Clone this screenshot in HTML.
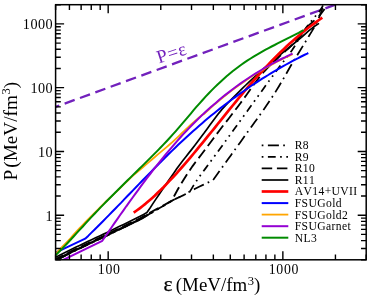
<!DOCTYPE html>
<html><head><meta charset="utf-8"><title>EOS</title>
<style>html,body{margin:0;padding:0;background:#fff}body{width:374px;height:297px;overflow:hidden;font-family:"Liberation Serif",serif}</style></head>
<body>
<svg width="374" height="297" viewBox="0 0 374 297" style="display:block;will-change:transform">
<rect width="374" height="297" fill="#fff"/>
<defs><clipPath id="c"><rect x="55.6" y="4.7" width="310.6" height="255.1"/></clipPath></defs>
<g clip-path="url(#c)" fill="none" stroke-linejoin="round">
<path d="M55.6,106.9 L339.1,3.3" stroke="#7221bc" stroke-width="2.3" stroke-dasharray="10.65 5.68" stroke-dashoffset="6.7"/>
<path d="M55.6,260.1 L59.6,258.1 L63.6,256.1 L67.6,254.1 L71.6,252.1 L75.6,250.1 L79.6,248.2 L83.6,246.2 L87.6,244.3 L91.6,242.5 L95.6,240.6 L99.6,238.7 L103.6,236.9 L107.6,235.0 L111.6,233.0 L115.6,231.1 L119.6,229.1 L123.6,227.2 L127.6,225.2 L131.6,223.3 L135.6,221.4 L139.6,219.4 L143.6,217.2 L147.6,214.9 L148.0,214.6" stroke="#000" stroke-width="2.2"/>
<path d="M55.6,260.4 L59.6,258.4 L63.6,256.4 L67.6,254.4 L71.6,252.4 L75.6,250.4 L79.6,248.5 L83.6,246.5 L87.6,244.6 L91.6,242.8 L95.6,240.9 L99.6,239.0 L103.6,237.2 L107.6,235.3 L111.6,233.3 L115.6,231.4 L119.6,229.4 L123.6,227.5 L127.6,225.5 L131.6,223.6 L135.6,221.7 L139.6,219.7 L143.6,217.5 L147.6,215.1 L151.6,212.7 L155.6,210.4 L159.6,208.0 L163.6,205.7 L167.6,203.3 L171.6,200.9 L175.6,198.9 L179.6,197.0 L183.6,195.1 L187.6,192.9 L191.6,190.5 L195.6,188.5 L199.6,186.5 L203.6,184.6 L207.6,182.7 L211.6,180.9 L212.8,180.4 L215.8,176.2 L218.8,172.0 L221.8,167.9 L224.8,163.7 L227.8,159.6 L230.8,155.4 L233.8,151.2 L236.8,147.1 L239.8,142.9 L242.8,138.7 L245.8,134.5 L248.8,130.4 L251.8,126.2 L254.8,122.1 L257.8,117.9 L260.8,113.6 L263.8,109.4 L266.8,105.1 L269.8,100.6 L272.8,96.1 L275.8,91.4 L278.8,86.5 L281.8,81.5 L284.8,76.4 L287.8,71.0 L290.8,65.7 L293.8,60.8 L296.8,55.9 L299.8,51.0 L302.8,46.1 L305.8,41.2 L308.8,36.3 L311.8,31.4 L314.8,26.2 L317.8,20.5 L320.8,13.0 L323.6,4.6" stroke="#000" stroke-width="1.75" stroke-dasharray="1.7 4.5 11 4.3" stroke-dashoffset="1.1"/>
<path d="M55.6,260.4 L59.6,258.4 L63.6,256.4 L67.6,254.4 L71.6,252.4 L75.6,250.4 L79.6,248.5 L83.6,246.5 L87.6,244.6 L91.6,242.8 L95.6,240.9 L99.6,239.0 L103.6,237.2 L107.6,235.3 L111.6,233.3 L115.6,231.4 L119.6,229.4 L123.6,227.5 L127.6,225.5 L131.6,223.6 L135.6,221.7 L139.6,219.7 L143.6,217.5 L147.6,215.1 L151.6,212.7 L155.6,210.4 L159.6,208.0 L163.6,205.7 L167.6,203.3 L171.6,200.9 L175.6,198.9 L179.6,197.0 L183.6,195.1 L187.6,192.9 L190.0,191.4 L193.0,186.4 L196.0,181.7 L199.0,177.3 L202.0,173.1 L205.0,169.1 L208.0,165.0 L211.0,160.9 L214.0,156.9 L217.0,152.8 L220.0,148.7 L223.0,144.6 L226.0,140.5 L229.0,136.3 L232.0,132.2 L235.0,128.1 L238.0,123.9 L241.0,119.8 L244.0,115.6 L247.0,111.5 L250.0,107.3 L253.0,103.2 L256.0,99.0 L259.0,94.9 L262.0,90.7 L265.0,86.5 L268.0,82.4 L271.0,78.3 L274.0,74.2 L277.0,70.1 L280.0,66.1 L283.0,62.2 L286.0,58.3 L289.0,54.4 L292.0,50.3 L295.0,45.7 L298.0,40.4 L301.0,35.4 L304.0,30.8 L307.0,26.6 L310.0,22.8 L313.0,19.1 L316.0,15.5 L319.0,12.1 L322.0,7.5 L323.3,4.6" stroke="#000" stroke-width="1.75" stroke-dasharray="1.7 4.5 1.7 4.5 7.8 4.4" stroke-dashoffset="9.2"/>
<path d="M55.6,259.2 L59.6,257.2 L63.6,255.2 L67.6,253.2 L71.6,251.2 L75.6,249.2 L79.6,247.3 L83.6,245.3 L87.6,243.4 L91.6,241.6 L95.6,239.7 L99.6,237.8 L103.6,236.0 L107.6,234.1 L111.6,232.1 L115.6,230.2 L119.6,228.2 L123.6,226.3 L127.6,224.3 L131.6,222.4 L135.6,220.5 L139.6,218.5 L143.6,216.3 L147.6,214.0 L151.6,211.7 L155.6,209.6 L159.6,207.4 L163.6,205.3 L167.6,203.1 L171.6,200.9 L174.6,195.2 L177.6,189.8 L180.6,184.6 L183.6,179.7 L186.6,175.0 L189.6,170.5 L192.6,166.1 L195.6,162.0 L198.6,158.1 L201.6,154.2 L204.6,150.3 L207.6,146.3 L210.6,142.3 L213.6,138.2 L216.6,134.2 L219.6,130.2 L222.6,126.3 L225.6,122.5 L228.6,118.7 L231.6,114.8 L234.6,110.9 L237.6,107.0 L240.6,103.0 L243.6,98.8 L246.6,94.7 L249.6,90.5 L252.6,86.3 L255.6,82.2 L258.6,78.2 L261.6,74.5 L264.6,71.0 L267.6,67.8 L270.6,64.8 L273.6,62.0 L276.6,59.2 L279.6,56.4 L282.6,53.6 L285.6,50.9 L288.6,48.2 L291.6,45.4 L294.6,42.4 L297.6,39.1 L300.6,35.5 L303.6,31.7 L306.6,27.7 L307.0,27.2" stroke="#000" stroke-width="1.85" stroke-dasharray="10.5 4.7" stroke-dashoffset="1.9"/>
<path d="M55.6,257.3 L59.6,255.3 L63.6,253.3 L67.6,251.3 L71.6,249.3 L75.6,247.3 L79.6,245.4 L83.6,243.4 L87.6,241.5 L91.6,239.7 L95.6,237.8 L99.6,235.9 L103.6,234.1 L107.6,232.2 L111.6,230.2 L115.6,228.3 L119.6,226.3 L123.6,224.4 L127.6,222.4 L131.6,220.5 L135.6,218.6 L139.6,216.6 L143.6,214.4 L146.9,212.5 L147.1,212.2 L149.9,208.2 L152.9,203.6 L155.9,199.1 L158.9,194.7 L161.9,190.2 L164.9,185.9 L167.9,181.6 L170.9,177.3 L173.9,173.0 L176.9,168.6 L179.9,164.4 L182.9,160.5 L185.9,156.7 L188.9,152.9 L191.9,149.1 L194.9,145.2 L197.9,141.2 L200.9,137.2 L203.9,133.3 L206.9,129.2 L209.9,125.1 L212.9,121.0 L215.9,117.0 L218.9,113.1 L221.9,109.5 L224.9,106.2 L227.9,103.0 L230.9,99.9 L233.9,96.9 L236.9,93.9 L239.9,90.9 L242.9,87.9 L245.9,85.0 L248.9,82.1 L251.9,79.3 L254.9,76.5 L257.9,73.8 L260.9,71.1 L263.9,68.5 L266.9,66.0 L269.9,63.5 L272.9,60.9 L275.9,58.4 L278.9,55.9 L281.9,53.4 L284.9,50.9 L287.9,48.5 L290.9,46.0 L293.9,43.5 L296.9,41.1 L299.9,38.6 L302.9,36.0 L305.9,33.4 L308.9,30.7 L311.9,28.3 L314.9,26.0 L317.9,24.1 L319.0,23.4" stroke="#000" stroke-width="1.7"/>
<path d="M307.6,26.4 L314.5,20.4 M318.9,16.4 L324.6,9" stroke="#000" stroke-width="1.9"/>
<path d="M133.7,212.6 L136.7,210.5 L139.7,208.3 L142.7,206.0 L145.7,203.6 L148.7,201.0 L151.7,198.4 L154.7,195.7 L157.7,192.8 L160.7,189.9 L163.7,187.0 L166.7,183.9 L169.7,180.7 L172.7,177.5 L175.7,174.3 L178.7,170.9 L181.7,167.5 L184.7,164.1 L187.7,160.6 L190.7,157.1 L193.7,153.5 L196.7,149.9 L199.7,146.2 L202.7,142.6 L205.7,138.9 L208.7,135.2 L211.7,131.5 L214.7,127.8 L217.7,124.0 L220.7,120.3 L223.7,116.6 L226.7,112.9 L229.7,109.2 L232.7,105.5 L235.7,101.8 L238.7,98.2 L241.7,94.6 L244.7,91.0 L247.7,87.5 L250.7,84.0 L253.7,80.5 L256.7,77.1 L259.7,73.8 L262.7,70.5 L265.7,67.3 L268.7,64.1 L271.7,61.0 L274.7,58.0 L277.7,55.0 L280.7,52.0 L283.7,49.2 L286.7,46.3 L289.7,43.6 L292.7,40.9 L295.7,38.2 L298.7,35.7 L301.7,33.2 L304.7,30.7 L307.7,28.3 L310.7,26.0 L313.7,23.8 L316.7,21.6 L319.7,19.5 L322.3,17.7" stroke="#ff0000" stroke-width="2.7"/>
<path d="M55.6,252.6 L85.2,238.7 L88.2,235.9 L91.2,232.9 L94.2,230.0 L97.2,227.0 L100.2,224.0 L103.2,221.0 L106.2,217.9 L109.2,214.9 L112.2,211.8 L115.2,208.7 L118.2,205.6 L121.2,202.6 L124.2,199.4 L127.2,196.3 L130.2,193.2 L133.2,190.1 L136.2,187.0 L139.2,183.9 L142.2,180.8 L145.2,177.7 L148.2,174.6 L151.2,171.6 L154.2,168.5 L157.2,165.5 L160.2,162.5 L163.2,159.5 L166.2,156.5 L169.2,153.5 L172.2,150.6 L175.2,147.7 L178.2,144.8 L181.2,142.0 L184.2,139.2 L187.2,136.4 L190.2,133.7 L193.2,131.0 L196.2,128.4 L199.2,125.8 L202.2,123.2 L205.2,120.6 L208.2,118.1 L211.2,115.6 L214.2,113.2 L217.2,110.8 L220.2,108.4 L223.2,106.1 L226.2,103.8 L229.2,101.5 L232.2,99.3 L235.2,97.1 L238.2,94.9 L241.2,92.8 L244.2,90.7 L247.2,88.6 L250.2,86.5 L253.2,84.5 L256.2,82.6 L259.2,80.6 L262.2,78.7 L265.2,76.8 L268.2,75.0 L271.2,73.1 L274.2,71.3 L277.2,69.6 L280.2,67.9 L283.2,66.2 L286.2,64.5 L289.2,62.8 L292.2,61.2 L295.2,59.6 L298.2,58.1 L301.2,56.5 L304.2,55.0 L307.2,53.6 L308.3,53.0" stroke="#0000ff" stroke-width="2"/>
<path d="M55.6,253.6 L58.6,250.6 L61.6,247.5 L64.6,244.4 L67.6,241.3 L70.6,238.1 L73.6,234.7 L76.6,231.4 L79.6,228.2 L82.6,225.1 L85.6,221.9 L88.6,218.8 L91.6,215.8 L94.6,212.8 L97.6,209.8 L100.6,206.8 L103.6,203.9 L106.6,201.0 L109.6,198.1 L112.6,195.3 L115.6,192.4 L118.6,189.5 L121.6,186.6 L124.6,183.7 L127.6,180.8 L130.6,177.9 L133.6,175.2 L136.6,172.5 L139.6,170.0 L142.6,167.5 L145.6,164.9 L148.6,162.4 L151.6,159.8 L154.6,157.2 L157.6,154.6 L160.6,152.1 L163.6,149.6 L166.6,147.1 L169.6,144.5 L172.6,141.9 L175.6,139.1 L178.6,136.3 L180.0,135.0 L182.0,133.0 L184.0,131.1 L186.0,129.2 L188.0,127.3 L190.0,125.5 L192.0,123.6 L194.0,121.9 L196.0,120.1 L198.0,118.4 L200.0,116.7 L202.0,115.0 L204.0,114.0 L206.0,112.1 L208.0,110.3 L210.0,108.5 L212.0,106.7 L214.0,104.9 L216.0,103.2 L218.0,101.5 L220.0,99.8 L222.0,98.2 L224.0,96.6 L226.0,95.0 L228.0,93.4 L230.0,91.8 L232.0,90.3 L234.0,88.8 L236.0,87.3 L238.0,85.9 L240.0,84.4 L242.0,83.0 L244.0,81.7 L246.0,80.3 L248.0,78.9 L250.0,77.6 L252.0,76.3 L254.0,75.1 L256.0,73.8 L258.0,72.6 L260.0,71.3 L262.0,70.2 L264.0,69.0 L266.0,67.8 L268.0,66.7 L270.0,65.6 L272.0,64.5 L274.0,63.4 L276.0,62.3 L278.0,61.3 L280.0,60.3 L282.0,59.3 L284.0,58.3 L286.0,57.3 L288.0,56.4 L290.0,55.4 L292.0,54.5 L292.6,54.2" stroke="#ffa500" stroke-width="1.8"/>
<path d="M55.6,263.6 L102.3,240.8 L105.3,236.5 L108.3,232.1 L111.3,227.8 L114.3,223.4 L117.3,219.1 L120.3,214.8 L123.3,210.6 L126.3,206.3 L129.3,202.2 L132.3,198.0 L135.3,193.9 L138.3,189.8 L141.3,185.7 L144.3,181.7 L147.3,177.7 L150.3,173.8 L153.3,169.9 L156.3,166.1 L159.3,162.3 L162.3,158.6 L165.3,154.9 L168.3,151.3 L171.3,147.8 L174.3,144.3 L177.3,140.9 L180.3,137.5 L183.3,134.2 L186.3,131.0 L189.3,127.9 L192.3,124.8 L195.3,121.8 L198.3,118.8 L201.3,115.9 L204.3,113.1 L207.3,110.3 L210.3,107.6 L213.3,104.9 L216.3,102.4 L219.3,99.8 L222.3,97.3 L225.3,94.9 L228.3,92.6 L231.3,90.2 L234.3,88.0 L237.3,85.8 L240.3,83.6 L243.3,81.5 L246.3,79.5 L249.3,77.5 L252.3,75.5 L255.3,73.6 L258.3,71.8 L261.3,70.0 L264.3,68.2 L267.3,66.5 L270.3,64.8 L273.3,63.2 L276.3,61.6 L279.3,60.0 L282.3,58.5 L285.3,57.1 L288.3,55.6 L291.3,54.2 L292.6,53.6" stroke="#9400d3" stroke-width="2"/>
<path d="M55.6,255.3 L58.6,252.3 L61.6,249.3 L64.6,246.1 L67.6,243.0 L70.6,239.8 L73.6,236.5 L76.6,233.2 L79.6,229.9 L82.6,226.7 L85.6,223.4 L88.6,220.1 L91.6,216.9 L94.6,213.7 L97.6,210.6 L100.6,207.4 L103.6,204.4 L106.6,201.3 L109.6,198.2 L112.6,195.2 L115.6,192.2 L118.6,189.2 L121.6,186.2 L124.6,183.3 L127.6,180.3 L130.6,177.4 L133.6,174.4 L136.6,171.5 L139.6,168.5 L142.6,165.6 L145.6,162.6 L148.6,159.6 L151.6,156.6 L154.6,153.6 L157.6,150.6 L160.6,147.5 L163.6,144.4 L166.6,141.2 L169.6,138.0 L172.6,134.7 L175.6,131.3 L178.6,127.9 L181.6,124.4 L184.6,120.9 L187.6,117.3 L190.6,113.8 L193.6,110.2 L196.6,106.7 L199.6,103.3 L202.6,100.0 L205.6,96.7 L208.6,93.5 L211.6,90.4 L214.6,87.4 L217.6,84.5 L220.6,81.7 L223.6,79.0 L226.6,76.3 L229.6,73.8 L232.6,71.3 L235.6,69.0 L238.6,66.7 L241.6,64.5 L244.6,62.4 L247.6,60.4 L250.6,58.5 L253.6,56.6 L256.6,54.8 L259.6,53.1 L262.6,51.4 L265.6,49.7 L268.6,48.1 L271.6,46.5 L274.6,45.0 L277.6,43.4 L280.6,41.9 L283.6,40.4 L286.6,38.9 L289.6,37.4 L292.6,35.8 L295.6,34.3 L298.6,32.8 L301.6,31.2 L303.6,30.1" stroke="#008b00" stroke-width="2"/>
</g>
<g stroke="#000" fill="none">
<rect x="55.6" y="4.7" width="310.6" height="255.1" stroke-width="1.5"/>
<path d="M55.6,259.80h5.2M366.2,259.80h-5.2M55.6,248.57h5.2M366.2,248.57h-5.2M55.6,240.60h5.2M366.2,240.60h-5.2M55.6,234.42h5.2M366.2,234.42h-5.2M55.6,229.37h5.2M366.2,229.37h-5.2M55.6,225.10h5.2M366.2,225.10h-5.2M55.6,221.40h5.2M366.2,221.40h-5.2M55.6,218.14h5.2M366.2,218.14h-5.2M55.6,215.22h8.5M366.2,215.22h-8.5M55.6,196.03h5.2M366.2,196.03h-5.2M55.6,184.79h5.2M366.2,184.79h-5.2M55.6,176.83h5.2M366.2,176.83h-5.2M55.6,170.65h5.2M366.2,170.65h-5.2M55.6,165.60h5.2M366.2,165.60h-5.2M55.6,161.33h5.2M366.2,161.33h-5.2M55.6,157.63h5.2M366.2,157.63h-5.2M55.6,154.37h5.2M366.2,154.37h-5.2M55.6,151.45h8.5M366.2,151.45h-8.5M55.6,132.25h5.2M366.2,132.25h-5.2M55.6,121.02h5.2M366.2,121.02h-5.2M55.6,113.05h5.2M366.2,113.05h-5.2M55.6,106.87h5.2M366.2,106.87h-5.2M55.6,101.82h5.2M366.2,101.82h-5.2M55.6,97.55h5.2M366.2,97.55h-5.2M55.6,93.85h5.2M366.2,93.85h-5.2M55.6,90.59h5.2M366.2,90.59h-5.2M55.6,87.67h8.5M366.2,87.67h-8.5M55.6,68.47h5.2M366.2,68.47h-5.2M55.6,57.24h5.2M366.2,57.24h-5.2M55.6,49.28h5.2M366.2,49.28h-5.2M55.6,43.10h5.2M366.2,43.10h-5.2M55.6,38.05h5.2M366.2,38.05h-5.2M55.6,33.78h5.2M366.2,33.78h-5.2M55.6,30.08h5.2M366.2,30.08h-5.2M55.6,26.82h5.2M366.2,26.82h-5.2M55.6,23.90h8.5M366.2,23.90h-8.5M55.6,4.70h5.2M366.2,4.70h-5.2M55.60,259.8v-5.2M55.60,4.7v5.2M69.43,259.8v-5.2M69.43,4.7v5.2M81.13,259.8v-5.2M81.13,4.7v5.2M91.25,259.8v-5.2M91.25,4.7v5.2M100.19,259.8v-5.2M100.19,4.7v5.2M108.18,259.8v-8.5M108.18,4.7v8.5M160.77,259.8v-5.2M160.77,4.7v5.2M191.52,259.8v-5.2M191.52,4.7v5.2M213.35,259.8v-5.2M213.35,4.7v5.2M230.28,259.8v-5.2M230.28,4.7v5.2M244.11,259.8v-5.2M244.11,4.7v5.2M255.80,259.8v-5.2M255.80,4.7v5.2M265.93,259.8v-5.2M265.93,4.7v5.2M274.87,259.8v-5.2M274.87,4.7v5.2M282.86,259.8v-8.5M282.86,4.7v8.5M335.44,259.8v-5.2M335.44,4.7v5.2M366.20,259.8v-5.2M366.20,4.7v5.2" stroke-width="1.4"/>
</g>
<g font-family="'Liberation Serif', serif" fill="#000" style="font-kerning:none">
<text x="53.2" y="220.7" font-size="14.2" letter-spacing="0.5" text-anchor="end">1</text>
<text x="53.2" y="156.9" font-size="14.2" letter-spacing="0.5" text-anchor="end">10</text>
<text x="53.2" y="93.2" font-size="14.2" letter-spacing="0.5" text-anchor="end">100</text>
<text x="53.2" y="29.4" font-size="14.2" letter-spacing="0.5" text-anchor="end">1000</text>
<text x="109.2" y="273.7" font-size="13.8" letter-spacing="0.7" text-anchor="middle">100</text>
<text x="283.9" y="273.7" font-size="13.8" letter-spacing="0.7" text-anchor="middle">1000</text>
<text x="163.6" y="291.3" font-size="18.9"><tspan font-size="21.5" stroke="#000" stroke-width="0.25">ε</tspan><tspan x="175.8">(MeV/fm</tspan><tspan font-size="12.6" dy="-6.8" dx="0.6">3</tspan><tspan dy="6.8">)</tspan></text>
<text transform="translate(17.1,180.5) rotate(-90)" font-size="19.2">P<tspan dx="2.2">(MeV/fm</tspan><tspan font-size="12.6" dy="-6.8" dx="0.6">3</tspan><tspan dy="6.8">)</tspan></text>
<text transform="translate(159.0,63.4) rotate(-18)" font-size="18.6" letter-spacing="0.6" fill="#7221bc">P=ε</text>
<text x="294.7" y="149.2" font-size="11.6" letter-spacing="0.4">R8</text>
<text x="294.7" y="160.8" font-size="11.6" letter-spacing="0.4">R9</text>
<text x="294.7" y="172.3" font-size="11.6" letter-spacing="0.4">R10</text>
<text x="294.7" y="183.9" font-size="11.6" letter-spacing="0.4">R11</text>
<text x="294.7" y="195.4" font-size="11.6" letter-spacing="0.4">AV14+UVII</text>
<text x="294.7" y="207.0" font-size="11.6" letter-spacing="0.4">FSUGold</text>
<text x="294.7" y="218.5" font-size="11.6" letter-spacing="0.4">FSUGold2</text>
<text x="294.7" y="230.1" font-size="11.6" letter-spacing="0.4">FSUGarnet</text>
<text x="294.7" y="241.6" font-size="11.6" letter-spacing="0.4">NL3</text>
</g>
<g fill="none">
<path d="M261.7,145.3H288.3" stroke="#000" stroke-width="1.75" stroke-dasharray="1.7 4.5 11 4.3"/>
<path d="M261.7,156.9H288.3" stroke="#000" stroke-width="1.75" stroke-dasharray="1.7 4.5 1.7 4.5 7.8 4.4" stroke-dashoffset="6.2"/>
<path d="M261.7,168.4H288.3" stroke="#000" stroke-width="1.85" stroke-dasharray="10.5 4.7"/>
<path d="M261.7,180.0H288.3" stroke="#000" stroke-width="1.7"/>
<path d="M261.7,191.5H288.3" stroke="#ff0000" stroke-width="2.7"/>
<path d="M261.7,203.1H288.3" stroke="#0000ff" stroke-width="2"/>
<path d="M261.7,214.6H288.3" stroke="#ffa500" stroke-width="1.8"/>
<path d="M261.7,226.2H288.3" stroke="#9400d3" stroke-width="2"/>
<path d="M261.7,237.7H288.3" stroke="#008b00" stroke-width="2"/>
</g>
</svg>
</body></html>
